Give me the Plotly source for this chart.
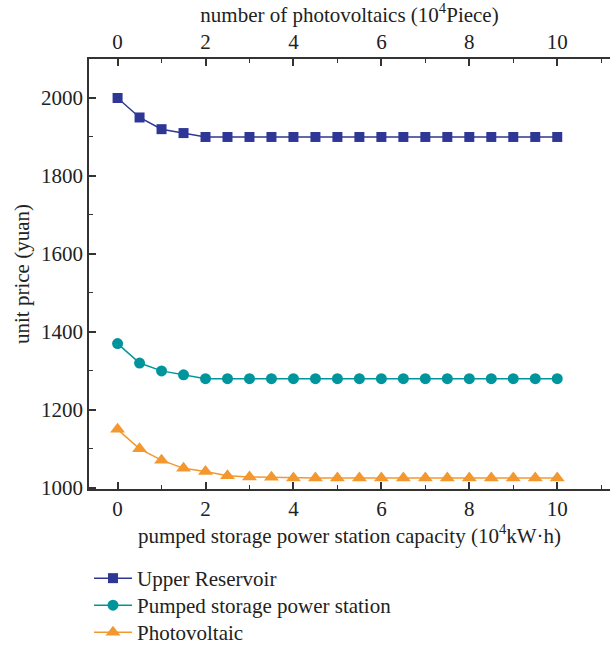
import plotly.graph_objects as go

x_vals = [0, 0.5, 1, 1.5, 2, 2.5, 3, 3.5, 4, 4.5, 5, 5.5, 6, 6.5, 7, 7.5, 8, 8.5, 9, 9.5, 10]
upper_reservoir = [2000, 1950, 1920, 1910, 1900, 1900, 1900, 1900, 1900, 1900, 1900,
                   1900, 1900, 1900, 1900, 1900, 1900, 1900, 1900, 1900, 1900]
pumped_station = [1370, 1320, 1300, 1290, 1280, 1280, 1280, 1280, 1280, 1280, 1280,
                  1280, 1280, 1280, 1280, 1280, 1280, 1280, 1280, 1280, 1280]
photovoltaic = [1150, 1100, 1071, 1050, 1042, 1031, 1028, 1027, 1025, 1025, 1025,
                1025, 1025, 1025, 1025, 1025, 1025, 1025, 1025, 1025, 1025]
names = ["Upper Reservoir", "Pumped storage power station", "Photovoltaic"]
colors = ["#2E3796", "#00959C", "#F3982F"]
symbols = ["square", "circle", "triangle-up"]
sizes = [10, 11, 13]
x_ticks = [0, 2, 4, 6, 8, 10]
y_ticks = [1000, 1200, 1400, 1600, 1800, 2000]

FONT = "Liberation Serif"
FS = 21
legend_ids = ["legend", "legend2", "legend3"]
legend_tops = [558, 585, 612]

fig = go.Figure()
for i, ys in enumerate([upper_reservoir, pumped_station, photovoltaic]):
    fig.add_trace(go.Scatter(
        x=x_vals, y=ys, name=names[i], mode="lines+markers",
        line=dict(color=colors[i], width=1.5),
        marker=dict(symbol=symbols[i], size=sizes[i], color=colors[i]),
        legend=legend_ids[i],
    ))
# invisible trace to show top axis
fig.add_trace(go.Scatter(x=x_vals, y=upper_reservoir, xaxis="x2", mode="markers",
                         marker=dict(opacity=0), showlegend=False, hoverinfo="skip"))

axis_common = dict(
    showline=True, linecolor="#333333", linewidth=1.5,
    ticks="inside", ticklen=7, tickwidth=1.5, tickcolor="#333333",
    showgrid=False, zeroline=False,
    tickfont=dict(family=FONT, size=FS, color="#222222"),
)
minor_common = dict(ticks="inside", ticklen=4, tickwidth=1.2, tickcolor="#333333")
layout_legends = {}
for lid, top in zip(legend_ids, legend_tops):
    layout_legends[lid] = dict(
        x=0.0, y=1 - top / 647, xref="paper", yref="container",
        xanchor="left", yanchor="top", itemwidth=38,
        font=dict(family=FONT, size=FS, color="#222222"),
        bgcolor="rgba(0,0,0,0)",
    )

fig.update_layout(
    width=610, height=647,
    margin=dict(l=89, r=0, t=59, b=158, autoexpand=False),
    paper_bgcolor="white", plot_bgcolor="white",
    font=dict(family=FONT, size=FS, color="#222222"),
    xaxis=dict(
        range=[-0.65, 11.2], tickvals=x_ticks,
        minor=dict(dtick=1, **minor_common),
        title=dict(text="pumped storage power station capacity (10<sup>4</sup>kW·h)",
                   font=dict(family=FONT, size=FS), standoff=4),
        **axis_common,
    ),
    xaxis2=dict(
        range=[-0.65, 11.2], tickvals=x_ticks, overlaying="x", side="top",
        minor=dict(dtick=1, **minor_common),
        title=dict(text="number of photovoltaics (10<sup>4</sup>Piece)",
                   font=dict(family=FONT, size=FS), standoff=4),
        **axis_common,
    ),
    yaxis=dict(
        range=[997, 2100], tickvals=y_ticks,
        minor=dict(dtick=100, **minor_common),
        title=dict(text="unit price (yuan)", font=dict(family=FONT, size=FS), standoff=6),
        **axis_common,
    ),
    showlegend=True,
    **layout_legends,
)
fig.write_html("out.html")
